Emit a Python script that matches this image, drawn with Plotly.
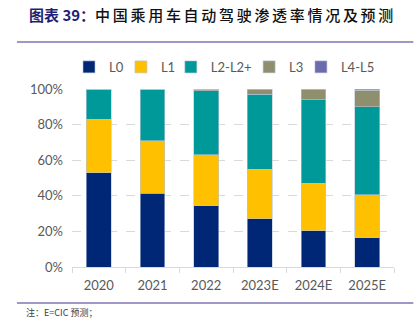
import plotly.graph_objects as go

years = ["2020", "2021", "2022", "2023E", "2024E", "2025E"]
series_names = ["L0", "L1", "L2-L2+", "L3", "L4-L5"]
L0 = [53, 41.5, 34.5, 27, 20.5, 16.5]
L1 = [30, 29.5, 28.5, 28, 26.5, 24]
L2 = [17, 29, 36, 42, 47, 49.5]
L3 = [0, 0, 1, 2.7, 5.5, 9.3]
L45 = [0, 0, 0, 0.3, 0.5, 0.7]
colors = ["#002776", "#FFC000", "#009999", "#8F8F6E", "#6B6BAE"]
legend_ids = ["legend", "legend2", "legend3", "legend4", "legend5"]
legend_x = [-0.0093, 0.152, 0.307, 0.550, 0.711]

fig = go.Figure()
for name, vals, c, lid in zip(series_names, [L0, L1, L2, L3, L45], colors, legend_ids):
    fig.add_trace(go.Bar(x=years, y=vals, name=name, marker_color=c, legend=lid,
                         marker_line_color="#B8C4D8", marker_line_width=0.6))

axis_font = dict(family="Lato, Open Sans, sans-serif", size=13, color="#595959")
legend_common = dict(orientation="h", yanchor="middle", xanchor="left", y=1.124,
                     font=dict(family="Lato, Open Sans, sans-serif", size=13, color="#595959"),
                     itemwidth=30, bgcolor="rgba(0,0,0,0)")
legends = {}
for lid, lx in zip(legend_ids, legend_x):
    legends[lid] = dict(legend_common, x=lx)

fig.update_layout(
    width=418, height=324,
    margin=dict(l=72, r=24, t=89, b=57),
    barmode="stack", bargap=0.54,
    plot_bgcolor="white", paper_bgcolor="white",
    font=axis_font,
    showlegend=True,
    yaxis=dict(range=[0, 100], tickvals=[0, 20, 40, 60, 80, 100],
               ticktext=["0%", "20%", "40%", "60%", "80%", "100%"],
               showgrid=True, gridcolor="#D9D9D9", griddash="dash", gridwidth=1,
               zeroline=False, showline=False, ticks="", ticklabelstandoff=8),
    xaxis=dict(showline=True, linecolor="#D9D9D9", linewidth=1,
               ticks="outside", tickson="boundaries", ticklen=5, tickcolor="#D9D9D9",
               showgrid=False, ticklabelstandoff=6),
    **legends,
)

# title
fig.add_annotation(xref="paper", yref="paper", x=-0.140, y=1.42, xanchor="left", yanchor="middle",
                   showarrow=False,
                   text="<span style='color:#1F1F75;font-weight:bold'>图表 39：</span>"
                        "<span style='letter-spacing:2.7px'>中国乘用车自动驾驶渗透率情况及预测</span>",
                   font=dict(family="Noto Sans CJK SC", size=15, color="#111111", weight=500))
# rules
fig.add_shape(type="line", xref="paper", yref="paper", x0=-0.171, x1=1.06, y0=1.264, y1=1.264,
              line=dict(color="#7F76B4", width=1.5))
fig.add_shape(type="line", xref="paper", yref="paper", x0=-0.171, x1=1.06, y0=-0.202, y1=-0.202,
              line=dict(color="#7F76B4", width=1.5))
# note
fig.add_annotation(xref="paper", yref="paper", x=-0.15, y=-0.258, xanchor="left", yanchor="middle",
                   showarrow=False, text="注：E=CIC 预测；",
                   font=dict(family="Noto Sans CJK SC", size=9, color="#404040"))

fig.write_html("out.html")
